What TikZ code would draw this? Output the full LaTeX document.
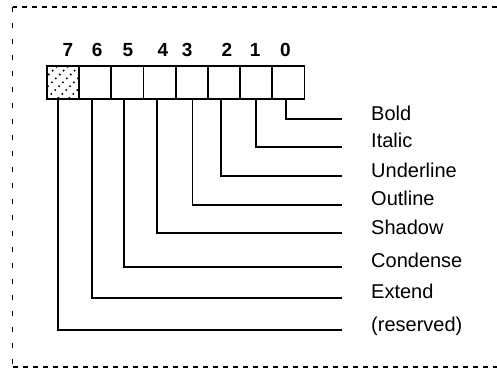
\documentclass[tikz,border=0pt]{standalone}
\usepackage{fontspec}
\setmainfont{Liberation Sans}
\usetikzlibrary{positioning,calc}

\begin{document}
\begin{tikzpicture}[x=1pt,y=-1pt,
  bitbox/.style={draw,line width=1.8pt,minimum width=32.2pt,minimum height=32.6pt,inner sep=0pt,outer sep=0pt},
  num/.style={font=\fontsize{19}{20}\selectfont\bfseries,anchor=base,inner sep=0pt},
  flag/.style={font=\fontsize{20}{21}\selectfont,anchor=base west,inner sep=0pt},
  wire/.style={line width=1.8pt},
  frame/.style={line width=1.5pt,dash pattern=on 5pt off 5pt}]
  \useasboundingbox (0,0) rectangle (497,369);
  % dotted frame, open at the right
  \draw[frame] (497,7) -- (12.7,7);
  \draw[line width=1.5pt,dash pattern=on 5pt off 11pt] (12.7,7) -- (12.7,367);
  \draw[frame] (12.7,367) -- (497,367);
  % the eight bits, 7 on the left
  \node[bitbox] (b7) at (63,82.3) {};
  \foreach \i/\j in {6/7,5/6,4/5,3/4,2/3,1/2,0/1}
    \node[bitbox,right=0pt of b\j] (b\i) {};
  % hatch of the reserved bit
  \begin{scope}
    \clip (b7.south west) rectangle (b7.north east);
    \foreach \d in {-22,-11,...,22}
      \draw[line width=1.6pt,dash pattern=on 1.5pt off 4pt]
        ($(b7.center)+(\d-20,20)$) -- ($(b7.center)+(\d+20,-20)$);
  \end{scope}
  % bit numbers
  \foreach \i/\dx in {7/5,6/2,5/0.5,4/3.3,3/-4.7,2/3,1/-1,0/-3}
    \node[num] (n\i) at ($(b\i.north)+(\dx,-9.5)$) {\i};
  % style flags
  \foreach \i/\y/\t in {0/119.3/Bold,1/146.7/Italic,2/176/Underline,3/204.6/Outline,
      4/233.3/Shadow,5/266.7/Condense,6/297.7/Extend,7/330.3/(reserved)}
    \node[flag] (f\i) at (371,\y+1) {\t};
  % connectors
  \foreach \i/\dx in {7/-5.3,6/-3.3,5/-3.2,4/-3,3/0.6,2/-3,1/0,0/-2.3}
    \draw[wire] ([xshift=\dx pt]b\i.south) |- ($(f\i.base west)+(-29,-1)$);
\end{tikzpicture}
\end{document}
